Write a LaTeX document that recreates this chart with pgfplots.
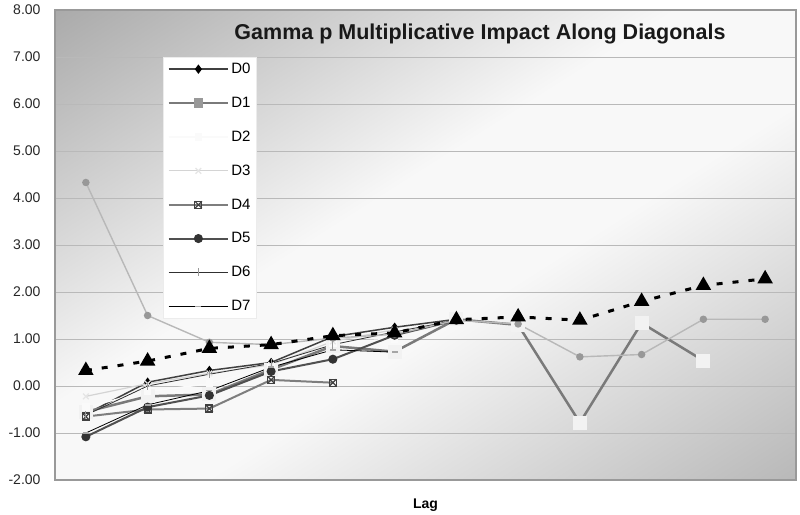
\documentclass[border=0pt]{standalone}
\usepackage{pgfplots}
\pgfplotsset{compat=1.18}
\usepackage{fontspec}
\setmainfont{Liberation Sans}
\pgfdeclareplotmark{boxx}{%
  \pgfpathrectangle{\pgfqpoint{-\pgfplotmarksize}{-\pgfplotmarksize}}{\pgfqpoint{2\pgfplotmarksize}{2\pgfplotmarksize}}%
  \pgfusepathqstroke
  \pgfpathmoveto{\pgfqpoint{-\pgfplotmarksize}{-\pgfplotmarksize}}%
  \pgfpathlineto{\pgfqpoint{\pgfplotmarksize}{\pgfplotmarksize}}%
  \pgfpathmoveto{\pgfqpoint{-\pgfplotmarksize}{\pgfplotmarksize}}%
  \pgfpathlineto{\pgfqpoint{\pgfplotmarksize}{-\pgfplotmarksize}}%
  \pgfusepathqstroke}
\definecolor{dzero}{HTML}{404040}
\definecolor{done}{HTML}{7A7A7A}
\definecolor{dthree}{HTML}{D4D4D4}
\definecolor{dfour}{HTML}{7E7E7E}
\definecolor{dfive}{HTML}{505050}
\definecolor{dsix}{HTML}{303030}
\definecolor{lgA}{HTML}{B8B8B8}
\definecolor{lgAm}{HTML}{989898}
\definecolor{sq}{HTML}{F2F2F2}
\pgfdeclarefunctionalshading{chartbg}{\pgfpointorigin}{\pgfpoint{100bp}{100bp}}{}{
  25 sub 50 div neg 1 add
  exch 25 sub 50 div add 2 div
  dup 0.42 lt
  { 0.306 mul 0.42 div 0.667 add }
  { dup 0.60 lt { pop 0.973 } { 0.60 sub 0.251 mul 0.40 div neg 0.973 add } ifelse }
  ifelse
  dup dup
}
\begin{document}
\begin{tikzpicture}
\path[use as bounding box] (-55bp,-35bp) rectangle (745bp,480bp);
\begin{axis}[
  scale only axis, width=741bp, height=470bp,
  xmin=-0.5, xmax=11.5, ymin=-2, ymax=8,
  xtick=\empty, ytick={-2,-1,0,1,2,3,4,5,6,7,8},
  major tick length=0pt,
  ymajorgrids,
  major grid style={draw=gray!55, line width=0.8bp},
  axis line style={draw=gray!80, line width=1.5bp},
  axis background/.style={shading=chartbg, shade},
  y tick label style={xshift=-11bp, font=\fontsize{14bp}{16bp}\selectfont, color=black!85},
  yticklabel style={/pgf/number format/.cd, fixed, fixed zerofill, precision=2, assume math mode=true},
  xlabel={\bfseries Lag},
  xlabel style={at={(axis description cs:0.5,0)}, anchor=center, yshift=-25bp, font=\fontsize{14bp}{16bp}\selectfont},
  legend style={at={(axis description cs:0.146,0.9)}, anchor=north west, draw=gray!15, fill=white, font=\fontsize{15bp}{17bp}\selectfont, row sep=18bp, inner xsep=4bp, inner ysep=4bp},
  legend cell align=left,
  legend image code/.code={\draw[mark repeat=2,mark phase=2] plot coordinates {(0cm,0cm) (1.05cm,0cm) (2.1cm,0cm)};},
]
% D0
\addplot[dzero, line width=1.5bp, mark=diamond*, mark size=3.5bp, mark options={fill=black, draw=black}] coordinates {(0,-0.60) (1,0.08) (2,0.33) (3,0.50) (4,1.05) (5,1.25) (6,1.42)};
\addlegendentry{D0}
% D1
\addplot[done, line width=2.5bp, mark=square*, mark size=6.5bp, mark options={fill=sq, draw=sq, line width=0pt}, legend image post style={mark size=3.5bp, mark options={fill=gray!80, draw=gray!80}}] coordinates {(0,-0.55) (1,-0.22) (2,-0.18) (3,0.35) (4,0.85) (5,0.73) (6,1.42) (7,1.30) (8,-0.78) (9,1.34) (10,0.54)};
\addlegendentry{D1}
% D2
\addplot[white!96!gray, line width=1.5bp, mark=square*, mark size=3bp, mark options={fill=white!96!gray, draw=white!96!gray}] coordinates {(0,-0.45) (1,-0.12) (2,0.05) (3,0.42) (4,0.92) (5,1.00)};
\addlegendentry{D2}
% D3
\addplot[dthree, line width=1.2bp, mark=x, mark size=4bp, mark options={draw=white!80!gray}] coordinates {(0,-0.22) (1,0.05) (2,0.27) (3,0.45) (4,0.95) (5,1.20)};
\addlegendentry{D3}
% D4
\addplot[dfour, line width=2bp, mark=boxx, mark size=3.5bp, mark options={draw=black!75, line width=1.2bp}] coordinates {(0,-0.65) (1,-0.50) (2,-0.48) (3,0.13) (4,0.07)};
\addlegendentry{D4}
% D5
\addplot[dfive, line width=2bp, mark=*, mark size=3.5bp, mark options={fill=black!80, draw=black!80}] coordinates {(0,-1.08) (1,-0.45) (2,-0.20) (3,0.31) (4,0.57) (5,1.08) (6,1.40)};
\addlegendentry{D5}
% D6
\addplot[dsix, line width=0.8bp, mark=|, mark size=4bp, mark options={draw=gray!80, line width=1bp}] coordinates {(0,-0.62) (1,0.00) (2,0.25) (3,0.48) (4,0.88) (5,1.15) (6,1.40)};
\addlegendentry{D6}
% D7
\addplot[black, line width=0.8bp, mark=-, mark size=3bp, mark options={draw=gray!70, line width=1.5bp}] coordinates {(0,-1.00) (1,-0.40) (2,-0.10) (3,0.40) (4,0.77) (5,0.72)};
\addlegendentry{D7}
% light gray series
\addplot[lgA, line width=1.4bp, mark=*, mark size=3bp, mark options={fill=lgAm, draw=lgAm}, forget plot] coordinates {(0,4.33) (1,1.50) (2,0.93) (3,0.88) (4,1.02) (5,1.10) (6,1.40) (7,1.32) (8,0.62) (9,0.67) (10,1.42) (11,1.42)};
% dashed triangles
\addplot[black, line width=3bp, dash pattern=on 6bp off 10bp, mark=triangle*, mark size=6bp, mark options={solid, fill=black, draw=none}, forget plot] coordinates {(0,0.33) (1,0.53) (2,0.80) (3,0.88) (4,1.07) (5,1.13) (6,1.41) (7,1.47) (8,1.40) (9,1.80) (10,2.14) (11,2.28)};
\node[font=\fontsize{21.5bp}{24bp}\selectfont\bfseries, text=black!90] at (axis description cs:0.5735,0.949) {Gamma p Multiplicative Impact Along Diagonals};
\end{axis}
\end{tikzpicture}
\end{document}
